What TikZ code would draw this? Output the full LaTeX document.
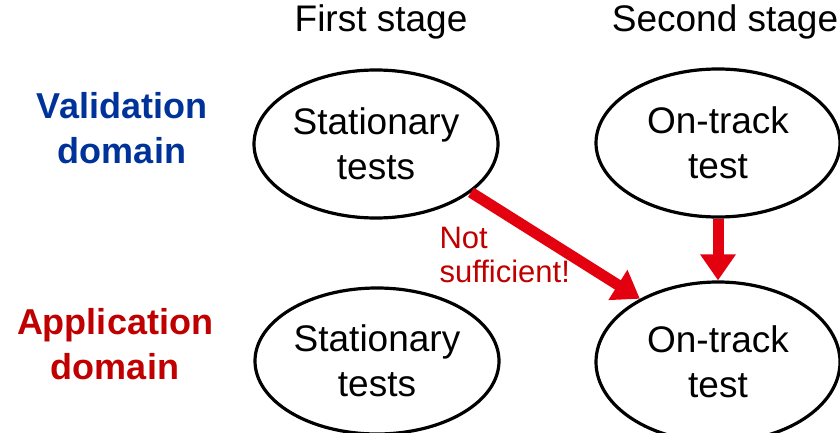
\documentclass[tikz,border=0pt]{standalone}
\usepackage{fontspec}
\setmainfont{Liberation Sans}
\usetikzlibrary{shapes.geometric,arrows.meta}
\definecolor{valblue}{RGB}{0,51,153}
\definecolor{appred}{RGB}{192,0,0}
\definecolor{arrred}{RGB}{227,0,15}
\begin{document}
\begin{tikzpicture}[x=1pt,y=-1pt,
		testell/.style={draw,line width=3.2pt,ellipse,minimum width=244pt,minimum height=148pt,inner sep=0pt,align=center,font=\fontsize{37}{45}\selectfont},
		stagelbl/.style={font=\fontsize{37}{45}\selectfont},
		domlbl/.style={align=center,font=\fontsize{36}{45}\selectfont\bfseries},
		bigarrow/.style={arrred,line width=11pt,-{Triangle[width=34pt,length=26pt]}}]
	\useasboundingbox (0,0) rectangle (840,433);
	
	\node[stagelbl] (stone) at (381,22) {First stage};
	\node[stagelbl] (sttwo) at (725,22) {Second stage};
	\node[domlbl,text=valblue] (valdom) at (122,128) {Validation\\domain};
	\node[domlbl,text=appred] (appdom) at (115,344) {Application\\domain};
	
	\node[testell] (vst) at (376,144) {Stationary\\tests};
	\node[testell] (vot) at (718,143) {On-track\\test};
	\node[testell,minimum height=146pt] (ast) at (377,361) {Stationary\\tests};
	\node[testell,minimum height=160pt] (aot) at (718,362) {On-track\\test};
	
	\draw[bigarrow] (vst.-27) -- (aot.141);
	\draw[bigarrow] (vot.south) -- (aot.north);
	\node[anchor=north west,align=left,text=appred,font=\fontsize{31}{34}\selectfont] (notsuf) at (436,224) {Not\\sufficient!};
\end{tikzpicture}
\end{document}
